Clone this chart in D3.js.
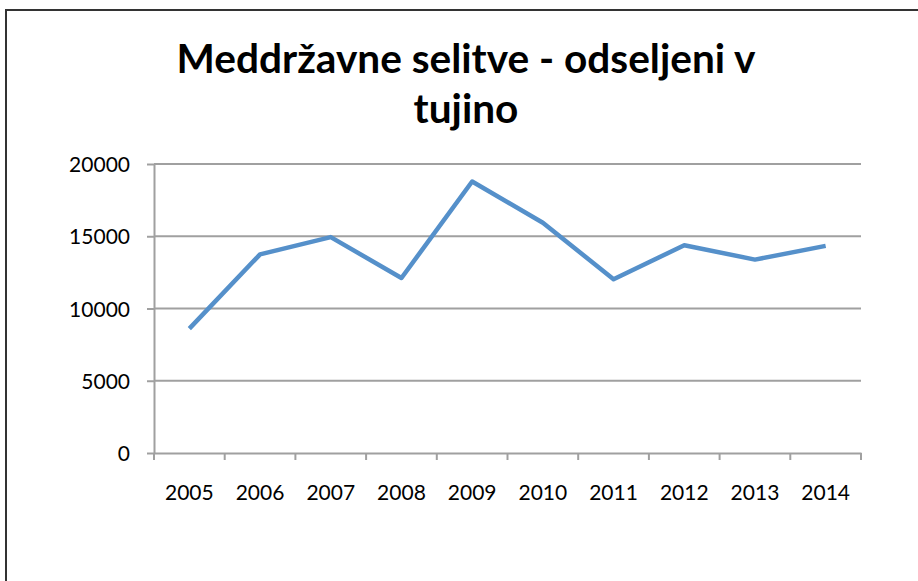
<!DOCTYPE html>
<html>
<head>
<meta charset="utf-8">
<script src="https://cdn.jsdelivr.net/npm/d3@7"></script>
<style>
  body { margin: 0; background: #fff; }
  svg { display: block; }
</style>
</head>
<body>
<div id="chart"></div>
<script>
// data
const years = ["2005", "2006", "2007", "2008", "2009", "2010", "2011", "2012", "2013", "2014"];
const emigrants = [8605, 13749, 14943, 12109, 18788, 15937, 12024, 14378, 13384, 14336];
const yTicks = [0, 5000, 10000, 15000, 20000];
const titleLines = ["Meddržavne selitve - odseljeni v", "tujino"];

const width = 918, height = 581;
const margin = { top: 164, right: 57, bottom: 128, left: 154 };

const svg = d3.select("#chart")
    .append("svg")
    .attr("width", width)
    .attr("height", height);

// outer frame (runs off the right / bottom edge like the screenshot)
svg.append("rect")
    .attr("x", 6).attr("y", 10)
    .attr("width", 930).attr("height", 600)
    .attr("fill", "none")
    .attr("stroke", "#333")
    .attr("stroke-width", 2);

const x = d3.scaleBand()
    .domain(years)
    .range([margin.left, width - margin.right]);

const y = d3.scaleLinear()
    .domain([0, 20000])
    .range([height - margin.bottom, margin.top]);

const gridColor = "#a0a0a0";

// gridlines
svg.append("g")
    .selectAll("line")
    .data(yTicks.filter(d => d > 0))
    .join("line")
    .attr("x1", margin.left).attr("x2", width - margin.right)
    .attr("y1", d => y(d)).attr("y2", d => y(d))
    .attr("stroke", gridColor)
    .attr("stroke-width", 2);

// y axis
const yAxis = svg.append("g")
    .attr("transform", `translate(${margin.left},0)`)
    .call(d3.axisLeft(y).tickValues(yTicks).tickFormat(d3.format("d"))
        .tickSize(7).tickPadding(17).tickSizeOuter(0));

// x axis, ticks between categories
const xAxis = svg.append("g")
    .attr("transform", `translate(0,${height - margin.bottom})`)
    .call(d3.axisBottom(x).tickSize(0).tickPadding(32));

xAxis.selectAll(".between")
    .data(d3.range(years.length + 1))
    .join("line")
    .attr("class", "between")
    .attr("x1", i => margin.left + i * x.step())
    .attr("x2", i => margin.left + i * x.step())
    .attr("y1", 0).attr("y2", 7)
    .attr("stroke", gridColor)
    .attr("stroke-width", 2);

[yAxis, xAxis].forEach(g => {
    g.select(".domain").attr("stroke", gridColor).attr("stroke-width", 2);
    g.selectAll(".tick line").attr("stroke", gridColor).attr("stroke-width", 2);
    g.selectAll("text")
        .attr("fill", "#000")
        .style("font-family", "Lato, 'Open Sans', sans-serif")
        .style("font-size", "21px");
});
yAxis.selectAll("text").attr("dy", "0.36em");

// series line
const line = d3.line()
    .x((d, i) => x(years[i]) + x.bandwidth() / 2)
    .y(d => y(d));

svg.append("path")
    .datum(emigrants)
    .attr("d", line)
    .attr("fill", "none")
    .attr("stroke", "#5590ca")
    .attr("stroke-width", 4.5)
    .attr("stroke-linejoin", "round");

// title
const title = svg.append("text")
    .attr("text-anchor", "middle")
    .style("font-family", "Lato, 'Open Sans', sans-serif")
    .style("font-weight", "bold")
    .style("font-size", "38px");

title.selectAll("tspan")
    .data(titleLines)
    .join("tspan")
    .attr("x", 466)
    .attr("y", (d, i) => 73 + i * 50)
    .text(d => d);

// fit first line to the width seen in the reference
const w = title.select("tspan").node().getComputedTextLength();
title.style("font-size", (38 * 579 / w).toFixed(1) + "px");
</script>
</body>
</html>
